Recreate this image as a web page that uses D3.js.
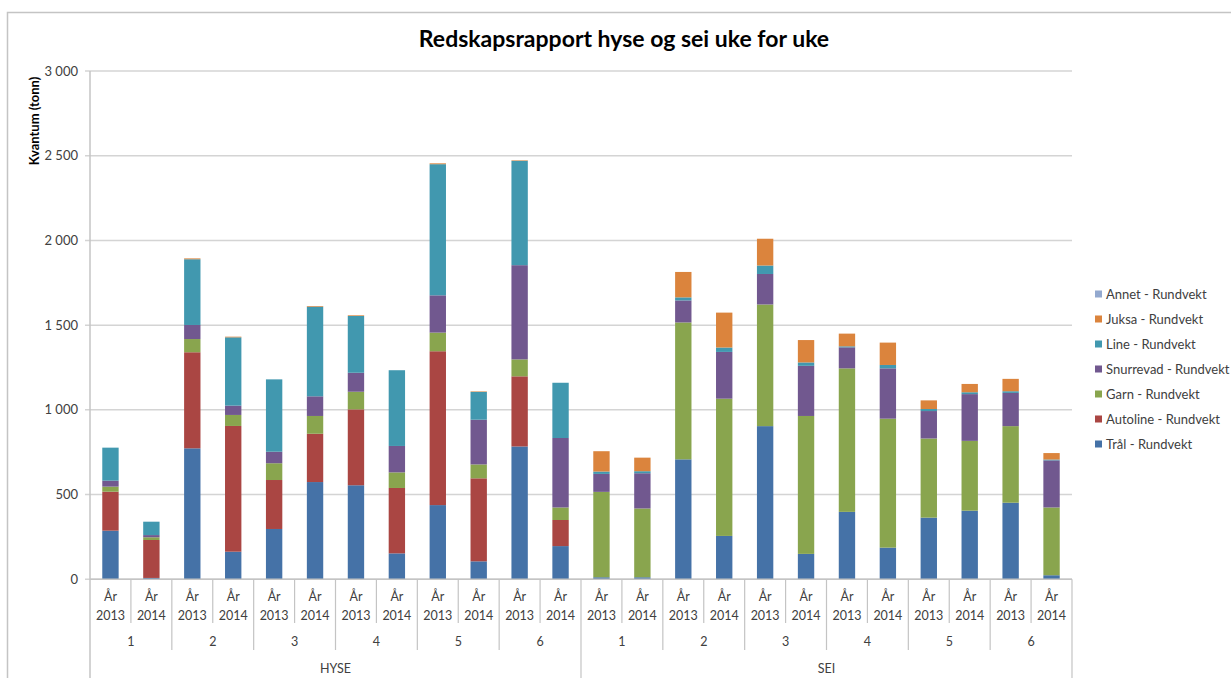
<!DOCTYPE html>
<html>
<head>
<meta charset="utf-8">
<script src="https://cdn.jsdelivr.net/npm/d3@7"></script>
<style>
  body { margin: 0; background: #fff; }
  svg { font-family: Lato, 'Open Sans', sans-serif; }
</style>
</head>
<body>
<svg id="chart" width="1231" height="678"></svg>
<script>
// categories: species > week > year
const species = ['HYSE', 'SEI'];
const weeks = ['1', '2', '3', '4', '5', '6'];
const years = ['2013', '2014'];

// values in tonn, one per bar (HYSE w1 2013, HYSE w1 2014, ... SEI w6 2014)
const tral      = [287, 8, 773, 163, 297, 574, 555, 153, 438, 106, 784, 196, 12, 12, 708, 256, 904, 150, 398, 187, 364, 405, 452, 24];
const autoline  = [230, 224, 567, 742, 289, 285, 448, 386, 908, 490, 414, 154, 0, 0, 0, 0, 0, 0, 0, 0, 0, 0, 0, 0];
const garn      = [30, 16, 78, 65, 99, 105, 104, 92, 110, 82, 100, 74, 504, 406, 808, 810, 718, 814, 847, 761, 467, 412, 452, 400];
const snurrevad = [35, 13, 83, 55, 68, 116, 112, 156, 220, 264, 556, 410, 106, 208, 130, 276, 180, 296, 124, 297, 162, 276, 196, 278];
const line      = [195, 79, 388, 403, 427, 529, 335, 447, 774, 164, 616, 326, 14, 12, 18, 26, 50, 20, 6, 20, 12, 11, 10, 5];
const juksa     = [0, 0, 5, 4, 0, 4, 4, 0, 5, 3, 3, 0, 120, 80, 150, 206, 158, 132, 75, 132, 51, 49, 73, 38];
const annet     = [0, 0, 0, 0, 0, 0, 0, 0, 0, 0, 0, 0, 0, 0, 0, 0, 0, 0, 0, 0, 0, 0, 0, 0];

const seriesNames = ['Trål - Rundvekt', 'Autoline - Rundvekt', 'Garn - Rundvekt', 'Snurrevad - Rundvekt',
  'Line - Rundvekt', 'Juksa - Rundvekt', 'Annet - Rundvekt'];
const seriesValues = [tral, autoline, garn, snurrevad, line, juksa, annet];
const colors = ['#4572A7', '#AA4643', '#89A54E', '#71588F', '#4198AF', '#DB843D', '#93A9CF'];

const yTicks = [0, 500, 1000, 1500, 2000, 2500, 3000];

// build rows for d3.stack
const cats = [];
species.forEach(s => weeks.forEach(w => years.forEach(y => cats.push({ s, w, y }))));
const rows = cats.map((c, i) => {
  const r = { key: i };
  seriesNames.forEach((n, j) => r[n] = seriesValues[j][i]);
  return r;
});

const svg = d3.select('#chart');
const plotLeft = 90, plotRight = 1072, plotTop = 71, plotBottom = 579.3;

const x = d3.scaleBand().domain(d3.range(cats.length)).range([plotLeft, plotRight])
  .paddingInner(0.6).paddingOuter(0.3);
const y = d3.scaleLinear().domain([0, 3000]).range([plotBottom, plotTop]);

const nb = d3.formatLocale({ decimal: ',', thousands: '\u00a0', grouping: [3], currency: ['', ''] });
const fmt = nb.format(',');

// chart area border (only top and left are inside the picture)
svg.append('rect').attr('x', 7.5).attr('y', 12.5).attr('width', 1300).attr('height', 800)
  .attr('fill', 'none').attr('stroke', '#c4c4c4').attr('stroke-width', 1.5);

svg.append('text').attr('x', 624).attr('y', 47).attr('text-anchor', 'middle')
  .attr('font-size', 23).attr('font-weight', 'bold').attr('fill', '#000')
  .text('Redskapsrapport hyse og sei uke for uke');

// gridlines + y labels
svg.append('g').selectAll('line').data(yTicks).join('line')
  .attr('x1', plotLeft - 5).attr('x2', plotRight)
  .attr('y1', d => y(d)).attr('y2', d => y(d))
  .attr('stroke', '#d4d4d4').attr('stroke-width', 1.5);

svg.append('g').selectAll('text').data(yTicks).join('text')
  .attr('x', 78).attr('y', d => y(d)).attr('dy', '0.35em')
  .attr('text-anchor', 'end').attr('font-size', 13).attr('fill', '#404040')
  .text(d => fmt(d));

svg.append('text')
  .attr('transform', 'translate(39,121) rotate(-90)')
  .attr('text-anchor', 'middle').attr('font-size', 13).attr('font-weight', 'bold').attr('fill', '#000')
  .text('Kvantum (tonn)');

// stacked bars
const stacked = d3.stack().keys(seriesNames)(rows);
svg.append('g').selectAll('g').data(stacked).join('g')
  .attr('fill', (d, i) => colors[i])
  .selectAll('rect').data(d => d).join('rect')
    .attr('x', d => x(d.data.key))
    .attr('width', x.bandwidth())
    .attr('y', d => y(d[1]))
    .attr('height', d => Math.max(0, y(d[0]) - y(d[1])));

// category axis (multi level)
const axisColor = '#c4c4c4';
const step = x.step();
const edge = i => plotLeft + step * i;
const ax = svg.append('g');
ax.append('line').attr('x1', plotLeft).attr('x2', plotRight).attr('y1', plotBottom).attr('y2', plotBottom)
  .attr('stroke', axisColor).attr('stroke-width', 1.5);
ax.append('line').attr('x1', plotLeft).attr('x2', plotLeft).attr('y1', plotTop).attr('y2', 678)
  .attr('stroke', axisColor).attr('stroke-width', 1.5);

for (let i = 1; i <= cats.length; i++) {
  let y2 = 623;
  if (i % 12 === 0) y2 = 678;
  else if (i % 2 === 0) y2 = 650;
  ax.append('line').attr('x1', edge(i)).attr('x2', edge(i)).attr('y1', plotBottom).attr('y2', y2)
    .attr('stroke', axisColor).attr('stroke-width', 1.2);
}

const lab = ax.append('g').attr('font-size', 12.5).attr('fill', '#404040').attr('text-anchor', 'middle');
cats.forEach((c, i) => {
  const cx = x(i) + x.bandwidth() / 2;
  lab.append('text').attr('x', cx).attr('y', 601).text('År');
  lab.append('text').attr('x', cx).attr('y', 619.5).text(c.y);
});
species.forEach((s, si) => {
  weeks.forEach((w, wi) => {
    const i0 = si * 12 + wi * 2;
    lab.append('text').attr('x', (edge(i0) + edge(i0 + 2)) / 2).attr('y', 646).text(w);
  });
  lab.append('text').attr('x', (edge(si * 12) + edge(si * 12 + 12)) / 2).attr('y', 672.5).text(s);
});

// legend, reversed order
const legend = svg.append('g').attr('transform', 'translate(1095,294)');
const items = seriesNames.map((n, i) => ({ n, c: colors[i] })).reverse();
legend.selectAll('g').data(items).join('g')
  .attr('transform', (d, i) => `translate(0,${i * 25})`)
  .each(function (d) {
    const g = d3.select(this);
    g.append('rect').attr('x', 0).attr('y', -3.5).attr('width', 7).attr('height', 7).attr('fill', d.c);
    g.append('text').attr('x', 11).attr('dy', '0.35em').attr('font-size', 13).attr('fill', '#404040').text(d.n);
  });
</script>
</body>
</html>
